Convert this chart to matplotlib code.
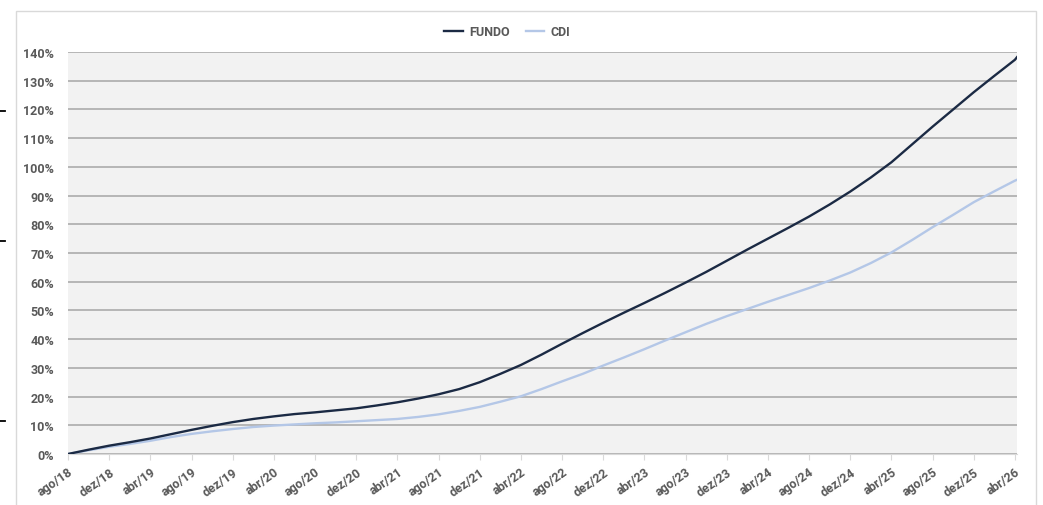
import matplotlib
matplotlib.use('Agg')
import matplotlib.pyplot as plt
from matplotlib.lines import Line2D
from matplotlib.patches import Rectangle
from matplotlib.ticker import FuncFormatter

plt.rcParams['font.family'] = ['Roboto', 'DejaVu Sans']

# rótulos do eixo x (a cada 4 meses)
labels = ['ago/18', 'dez/18', 'abr/19', 'ago/19', 'dez/19', 'abr/20', 'ago/20', 'dez/20',
          'abr/21', 'ago/21', 'dez/21', 'abr/22', 'ago/22', 'dez/22', 'abr/23', 'ago/23',
          'dez/23', 'abr/24', 'ago/24', 'dez/24', 'abr/25', 'ago/25', 'dez/25', 'abr/26']
# meses desde ago/18, a cada 2 meses (último ponto: início de maio/26)
months = [0, 2, 4, 6, 8, 10, 12, 14, 16, 18, 20, 22, 24, 26, 28, 30, 32, 34, 36, 38,
          40, 42, 44, 46, 48, 50, 52, 54, 56, 58, 60, 62, 64, 66, 68, 70, 72, 74, 76, 78,
          80, 82, 84, 86, 88, 90, 92, 92.2]
# rentabilidade acumulada (%)
fundo = [0, 1.5, 2.9, 4.1, 5.4, 6.9, 8.4, 9.8, 11.1, 12.2, 13.1, 13.9, 14.5, 15.2,
         15.9, 16.9, 18.0, 19.3, 20.8, 22.6, 25.0, 27.9, 31.0, 34.6, 38.4, 42.1, 45.7,
         49.2, 52.6, 56.1, 59.7, 63.4, 67.3, 71.2, 75.0, 78.8, 82.7, 86.9, 91.4, 96.3,
         101.6, 107.8, 114.0, 120.0, 126.0, 131.7, 137.3, 138.2]
cdi = [0, 1.3, 2.5, 3.5, 4.6, 5.9, 7.0, 7.9, 8.7, 9.4, 9.9, 10.3, 10.7, 11.0, 11.4,
       11.8, 12.2, 12.9, 13.8, 15.0, 16.4, 18.2, 20.1, 22.6, 25.3, 27.9, 30.8, 33.6,
       36.5, 39.5, 42.4, 45.3, 48.0, 50.5, 53.0, 55.4, 57.8, 60.4, 63.2, 66.5, 70.2,
       74.5, 79.0, 83.3, 87.7, 91.5, 95.2, 95.5]

fig = plt.figure(figsize=(10.43, 5.06), dpi=100)
ax = fig.add_axes([68 / 1043, 1 - 455 / 506, (1017 - 68) / 1043, (455 - 53) / 506])

ax.set_facecolor('#f2f2f2')
ax.plot(months, fundo, color='#1b2a44', lw=1.7, label='FUNDO', zorder=3)
ax.plot(months, cdi, color='#b4c7e7', lw=1.7, label='CDI', zorder=2)

ax.set_xlim(0, 92.2)
ax.set_ylim(0, 140)
ax.set_yticks(range(0, 141, 10))
ax.yaxis.set_major_formatter(FuncFormatter(lambda v, p: f'{v:.0f}%'))
ax.set_xticks(months[0:-1:2])
ax.set_xticklabels(labels, rotation=35, ha='right', rotation_mode='anchor')

ax.grid(axis='y', color='#a6a6a6', lw=1.1)
ax.set_axisbelow(True)
for s in ['top', 'right', 'left']:
    ax.spines[s].set_visible(False)
ax.spines['bottom'].set_color('#d9d9d9')
ax.tick_params(axis='y', length=0, pad=10, labelsize=9, labelcolor='#595959')
ax.tick_params(axis='x', length=4, color='#d9d9d9', pad=4, labelsize=9, labelcolor='#595959')
for t in ax.get_xticklabels() + ax.get_yticklabels():
    t.set_fontweight('bold')

leg = fig.legend(loc='center', bbox_to_anchor=(507 / 1043, 1 - 33 / 506), ncol=2,
                 frameon=False, handlelength=1.5, handletextpad=0.5, columnspacing=1.3,
                 prop={'weight': 'bold', 'size': 9})
for t in leg.get_texts():
    t.set_color('#595959')

# moldura da área do gráfico
fig.add_artist(Rectangle((16 / 1043, -0.01), (1036 - 16) / 1043, 1.01 - 12 / 506,
                         transform=fig.transFigure, fill=False, ec='#d9d9d9', lw=1))
# traços cortados à esquerda
for yy in [112, 242, 422]:
    fig.add_artist(Line2D([0, 5 / 1043], [1 - yy / 506] * 2, color='black', lw=1.3,
                          transform=fig.transFigure))

fig.savefig('out.png', dpi=100)
